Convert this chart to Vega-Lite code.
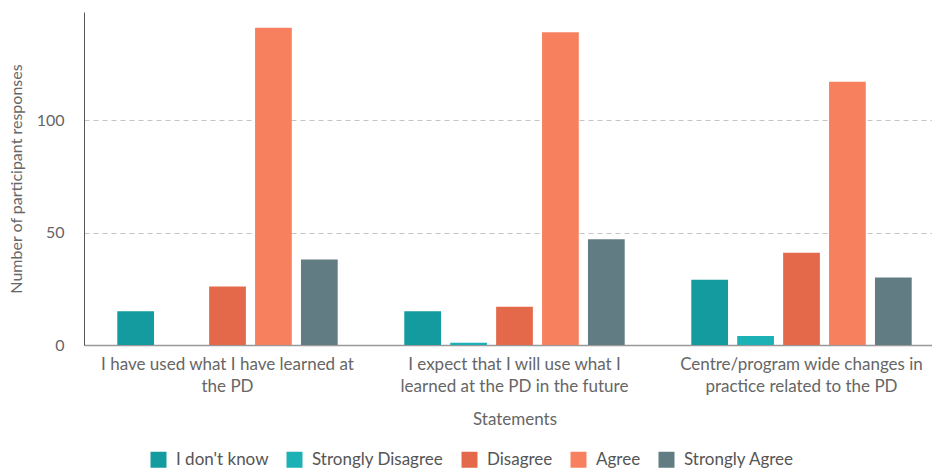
{
  "$schema": "https://vega.github.io/schema/vega-lite/v6.json",
  "width": 861,
  "height": 333,
  "padding": {"left": 8, "top": 12, "right": 0, "bottom": 0},
  "background": "white",
  "config": {
    "font": "Lato",
    "view": {"stroke": null},
    "axis": {"labelFont": "Lato", "titleFont": "Lato", "labelColor": "#666666", "titleColor": "#666666", "titleFontWeight": "normal"}
  },
  "data": {
    "values": [
      {"statement": "I have used what I have learned at|the PD", "response": "I don't know", "count": 15},
      {"statement": "I have used what I have learned at|the PD", "response": "Strongly Disagree", "count": 0},
      {"statement": "I have used what I have learned at|the PD", "response": "Disagree", "count": 26},
      {"statement": "I have used what I have learned at|the PD", "response": "Agree", "count": 141},
      {"statement": "I have used what I have learned at|the PD", "response": "Strongly Agree", "count": 38},
      {"statement": "I expect that I will use what I|learned at the PD in the future", "response": "I don't know", "count": 15},
      {"statement": "I expect that I will use what I|learned at the PD in the future", "response": "Strongly Disagree", "count": 1},
      {"statement": "I expect that I will use what I|learned at the PD in the future", "response": "Disagree", "count": 17},
      {"statement": "I expect that I will use what I|learned at the PD in the future", "response": "Agree", "count": 139},
      {"statement": "I expect that I will use what I|learned at the PD in the future", "response": "Strongly Agree", "count": 47},
      {"statement": "Centre/program wide changes in|practice related to the PD", "response": "I don't know", "count": 29},
      {"statement": "Centre/program wide changes in|practice related to the PD", "response": "Strongly Disagree", "count": 4},
      {"statement": "Centre/program wide changes in|practice related to the PD", "response": "Disagree", "count": 41},
      {"statement": "Centre/program wide changes in|practice related to the PD", "response": "Agree", "count": 117},
      {"statement": "Centre/program wide changes in|practice related to the PD", "response": "Strongly Agree", "count": 30}
    ]
  },
  "mark": {"type": "bar"},
  "encoding": {
    "x": {
      "field": "statement",
      "type": "nominal",
      "sort": null,
      "scale": {"paddingInner": 0.2, "paddingOuter": 0.1},
      "axis": {
        "title": "Statements",
        "labelAngle": 0,
        "labelExpr": "split(datum.label, '|')",
        "labelFontSize": 17,
        "labelLineHeight": 22,
        "labelPadding": 11,
        "labelLimit": 400,
        "ticks": false,
        "domainColor": "#999999",
        "domainWidth": 1.5,
        "titleFontSize": 17,
        "titlePadding": 17
      }
    },
    "xOffset": {
      "field": "response",
      "type": "nominal",
      "sort": ["I don't know", "Strongly Disagree", "Disagree", "Agree", "Strongly Agree"],
      "scale": {"paddingInner": 0.2, "paddingOuter": 0.1}
    },
    "y": {
      "field": "count",
      "type": "quantitative",
      "scale": {"domain": [0, 148], "nice": false},
      "axis": {
        "title": "Number of participant responses",
        "values": [0, 50, 100],
        "ticks": false,
        "labelPadding": 20,
        "labelFontSize": 16,
        "titleFontSize": 16,
        "titlePadding": 12,
        "gridDash": [5, 4],
        "gridColor": "#c4c4c4",
        "domainColor": "#555555",
        "domainWidth": 1
      }
    },
    "color": {
      "field": "response",
      "type": "nominal",
      "sort": ["I don't know", "Strongly Disagree", "Disagree", "Agree", "Strongly Agree"],
      "scale": {
        "domain": ["I don't know", "Strongly Disagree", "Disagree", "Agree", "Strongly Agree"],
        "range": ["#139b9f", "#1cb1b4", "#e3694a", "#f7805f", "#627c83"]
      },
      "legend": {
        "title": null,
        "orient": "none",
        "direction": "horizontal",
        "legendX": 66,
        "legendY": 439,
        "symbolType": "square",
        "symbolSize": 256,
        "symbolStrokeWidth": 0,
        "labelFontSize": 17,
        "labelColor": "#555555",
        "labelFont": "Lato",
        "columnPadding": 17,
        "labelOffset": 9
      }
    }
  }
}
